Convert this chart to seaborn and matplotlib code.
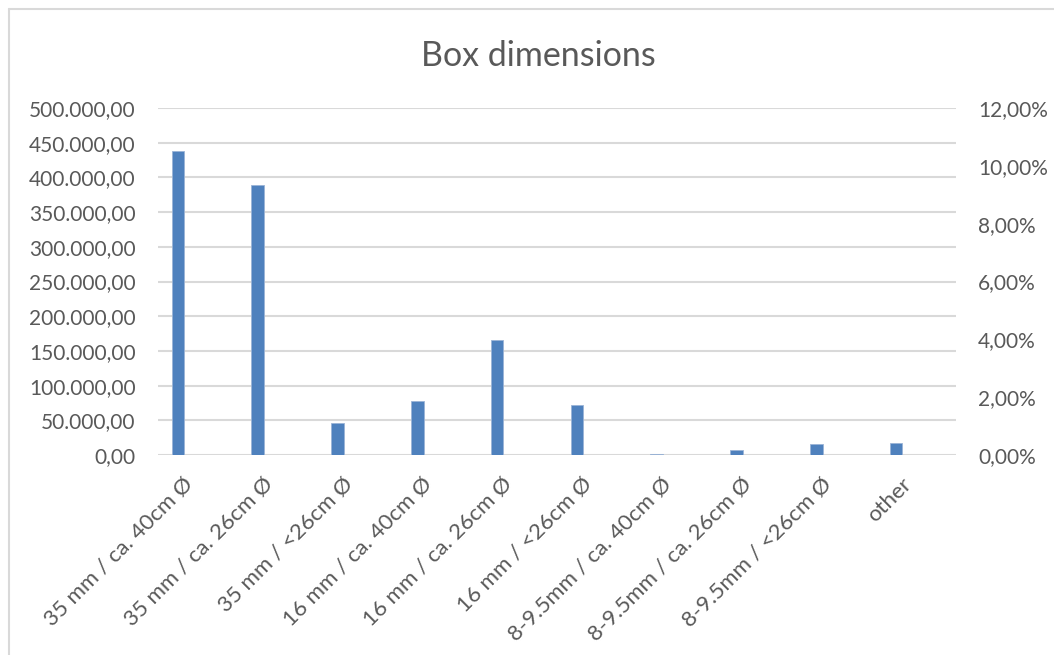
import numpy as np
import pandas as pd
import matplotlib
matplotlib.use("Agg")
import matplotlib.pyplot as plt
import matplotlib.transforms as mtrans
from matplotlib.lines import Line2D
from matplotlib.ticker import FuncFormatter, MultipleLocator
import seaborn as sns

# %%
categories = ["35 mm / ca. 40cm Ø", "35 mm / ca. 26cm Ø", "35 mm / <26cm Ø",
              "16 mm / ca. 40cm Ø", "16 mm / ca. 26cm Ø", "16 mm / <26cm Ø",
              "8-9.5mm / ca. 40cm Ø", "8-9.5mm / ca. 26cm Ø", "8-9.5mm / <26cm Ø",
              "other"]
values = [438000, 389500, 46000, 78000, 165500, 71500, 1200, 7500, 15800, 17300]

df = pd.DataFrame({"box": categories, "count": values})

# %%
sns.set_theme(style = "white")
plt.rcParams["font.family"] = ["Lato", "DejaVu Sans"]
txt = "#595959"
grid = "#d9d9d9"

fig = plt.figure(figsize = (10.54, 6.55), dpi = 100)
ax = fig.add_axes([158 / 1054, 1 - 455 / 655, (956 - 158) / 1054, (455 - 108) / 655])

sns.barplot(data = df, x = "box", y = "count", color = "#4f81bd", saturation = 1,
            width = 0.158, edgecolor = "#9bb4d6", linewidth = 0.6, ax = ax)
# excel clusters the bar to the left of the category centre
for p in ax.patches:
    p.set_x(p.get_x() - 0.25)

ax.set_xlim(-0.5, len(categories) - 0.5)
ax.set_ylim(0, 500000)
ax.yaxis.set_major_locator(MultipleLocator(50000))
ax.yaxis.set_major_formatter(FuncFormatter(
    lambda v, _: f"{v:,.2f}".replace(",", "X").replace(".", ",").replace("X", ".")))
ax.grid(axis = "y", color = grid, linewidth = 1.5)
ax.set_axisbelow(True)
for s in ax.spines.values():
    s.set_visible(False)
ax.set_xlabel("")
ax.set_ylabel("")
ax.tick_params(axis = "y", length = 0, pad = 16, labelsize = 15, labelcolor = txt)
ax.tick_params(axis = "x", length = 0, pad = 8, labelsize = 16, labelcolor = txt)
shift = mtrans.ScaledTranslation(-15 / 100, -8 / 100, fig.dpi_scale_trans)
for lab in ax.get_xticklabels():
    lab.set_rotation(45)
    lab.set_ha("right")
    lab.set_rotation_mode("anchor")
    lab.set_transform(lab.get_transform() + shift)

ax2 = ax.twinx()
ax2.set_ylim(0, 0.12)
ax2.yaxis.set_major_locator(MultipleLocator(0.02))
ax2.yaxis.set_major_formatter(FuncFormatter(lambda v, _: f"{v * 100:.2f}%".replace(".", ",")))
ax2.grid(False)
for s in ax2.spines.values():
    s.set_visible(False)
ax2.tick_params(axis = "y", length = 0, pad = 16, labelsize = 15, labelcolor = txt)

fig.text(538 / 1054, 1 - 56 / 655, "Box dimensions", ha = "center", va = "center",
         fontsize = 24.5, color = txt)

# chart frame (cropped on right / bottom)
fig.add_artist(Line2D([9 / 1054, 9 / 1054], [0, 1 - 9 / 655], color = grid, linewidth = 1.5))
fig.add_artist(Line2D([9 / 1054, 1], [1 - 9 / 655, 1 - 9 / 655], color = grid, linewidth = 1.5))

fig.savefig("out.png", dpi = 100)
